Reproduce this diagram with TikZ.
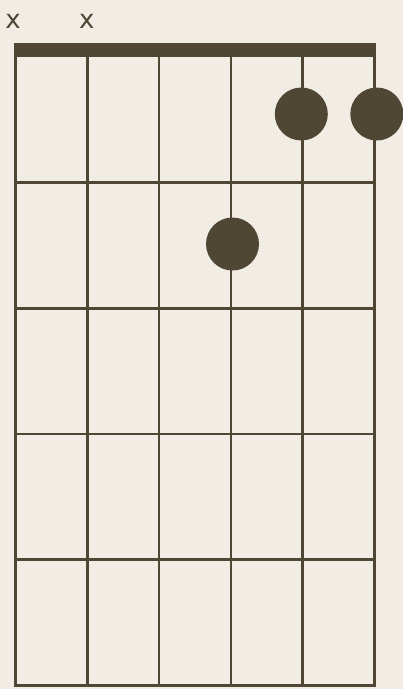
\documentclass[tikz,border=0pt]{standalone}
\usepackage{fontspec}
\setsansfont{DejaVu Sans}
\usetikzlibrary{positioning}
\definecolor{sotet}{HTML}{4F4634}
\definecolor{papir}{HTML}{F1EDE5}
\tikzset{
  hur/.style={sotet,line width=2.7pt},
  bund/.style={sotet,line width=2.7pt},
  nyereg/.style={fill=sotet},
  ujj/.style={circle,fill=sotet,minimum size=53pt,inner sep=0pt},
  jel/.style={text=sotet,inner sep=0pt,font=\sffamily\fontsize{26}{26}\selectfont},
}

\begin{document}
\begin{tikzpicture}[x=1pt,y=-1pt]
  \useasboundingbox (0,0) rectangle (403,689);
  \fill[papir] (0,0) rectangle (403,689);
  % nyereg es hurok
  \fill[nyereg] (14,42.5) rectangle (375.8,57);
  \foreach \i in {0,...,5}
    \draw[hur] (15.4+71.84*\i,57) -- (15.4+71.84*\i,685.5);
  \foreach \j in {1,...,4}
    \draw[bund] (14,57+125.7*\j) -- (375.8,57+125.7*\j);
  \draw[bund,line width=3.6pt] (14,685.5) -- (375.8,685.5);
  % nem pengetett hurok
  \node[jel] (x1) at (13,21) {x};
  \node[jel] (x2) at (86.8,21) {x};
  % ujjak
  \node[ujj] (u1) at (301.3,114) {};
  \node[ujj] (u2) at (376.8,114) {};
  \node[ujj] (u3) at (232.5,244) {};
\end{tikzpicture}
\end{document}
